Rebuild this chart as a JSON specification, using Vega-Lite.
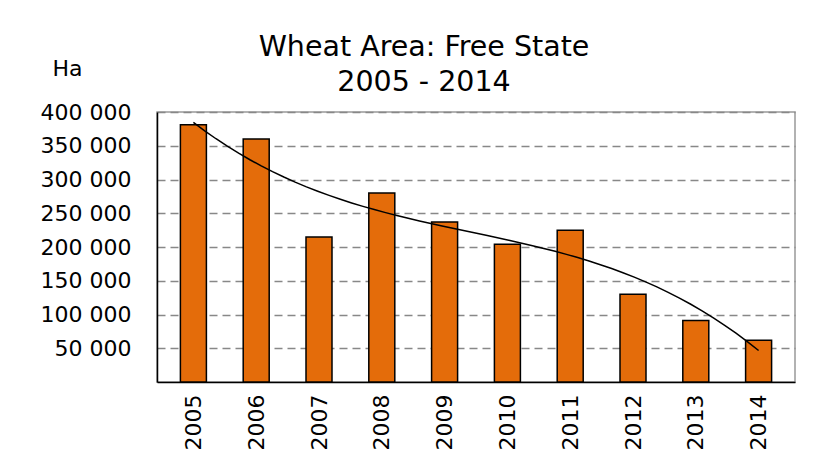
{
  "$schema": "https://vega.github.io/schema/vega-lite/v6.json",
  "width": 638,
  "height": 270,
  "autosize": {"type": "none"},
  "padding": {"left": 157, "top": 112, "right": 23, "bottom": 82},
  "background": "white",
  "title": {
    "text": ["Wheat Area: Free State", "2005 - 2014"],
    "font": "DejaVu Sans",
    "fontSize": 28.5,
    "fontWeight": "normal",
    "color": "black",
    "anchor": "middle",
    "dx": -52,
    "offset": -39,
    "lineHeight": 35
  },
  "data": {
    "values": [
      {"year": 2005, "area": 381000},
      {"year": 2006, "area": 360000},
      {"year": 2007, "area": 215000},
      {"year": 2008, "area": 280000},
      {"year": 2009, "area": 237000},
      {"year": 2010, "area": 204000},
      {"year": 2011, "area": 225000},
      {"year": 2012, "area": 130000},
      {"year": 2013, "area": 91000},
      {"year": 2014, "area": 62000}
    ]
  },
  "encoding": {
    "x": {
      "field": "year",
      "type": "quantitative",
      "scale": {"domain": [2004.5, 2014.5], "nice": false, "zero": false},
      "axis": {
        "values": [2005, 2006, 2007, 2008, 2009, 2010, 2011, 2012, 2013, 2014],
        "format": "d",
        "labelAngle": -90,
        "labelFont": "DejaVu Sans",
        "labelFontSize": 22,
        "labelColor": "black",
        "labelPadding": 12,
        "labelOverlap": false,
        "grid": false,
        "ticks": false,
        "domainColor": "black",
        "domainWidth": 1.5,
        "title": null
      }
    },
    "y": {
      "field": "area",
      "type": "quantitative",
      "scale": {"domain": [0, 400000], "nice": false},
      "axis": {
        "values": [50000, 100000, 150000, 200000, 250000, 300000, 350000, 400000],
        "labelExpr": "replace(format(datum.value, ','), ',', ' ')",
        "labelFont": "DejaVu Sans",
        "labelFontSize": 22,
        "labelColor": "black",
        "labelPadding": 26,
        "labelOverlap": false,
        "labelFlush": false,
        "grid": true,
        "gridColor": "#888888",
        "gridDash": [8, 5],
        "gridWidth": 1.5,
        "ticks": false,
        "domainColor": "black",
        "domainWidth": 1.5,
        "title": "Ha",
        "titleAngle": 0,
        "titleAlign": "left",
        "titleBaseline": "middle",
        "titleX": -105,
        "titleY": -44,
        "titleFont": "DejaVu Sans",
        "titleFontSize": 22,
        "titleFontWeight": "normal",
        "titleColor": "black"
      }
    }
  },
  "layer": [
    {
      "mark": {"type": "bar", "fill": "#E46C0A", "stroke": "black", "strokeWidth": 1.5, "width": 26}
    },
    {
      "transform": [{"regression": "area", "on": "year", "method": "poly", "order": 3}],
      "mark": {"type": "line", "color": "black", "strokeWidth": 1.5}
    }
  ],
  "config": {
    "view": {"stroke": "#999999", "strokeWidth": 1.5},
    "axis": {"labelOverlap": false}
  }
}
